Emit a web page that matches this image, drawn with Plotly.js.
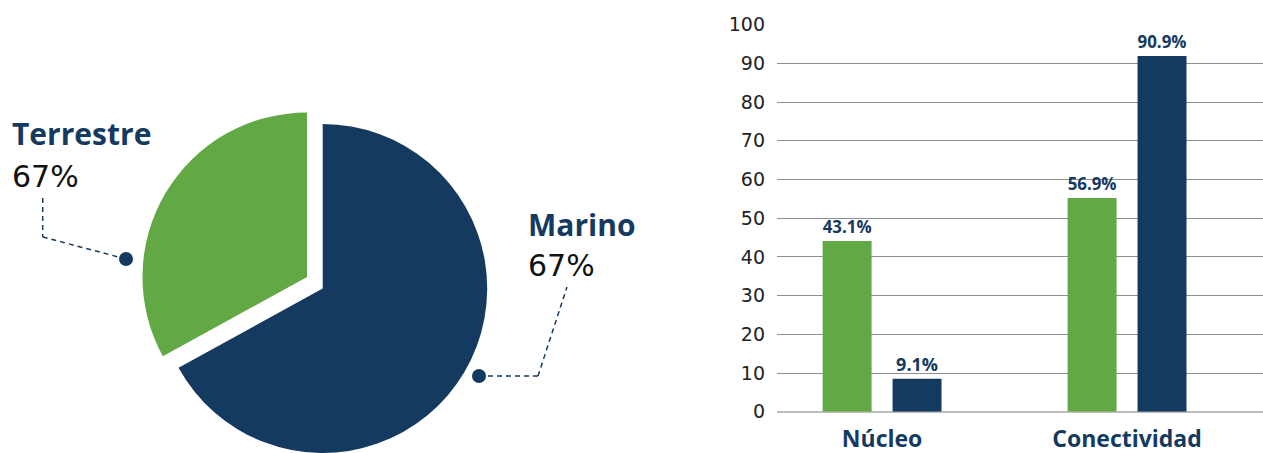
<!DOCTYPE html>
<html><head><meta charset="utf-8">
<script src="https://cdn.plot.ly/plotly-3.0.1.min.js"></script>
<style>html,body{margin:0;padding:0;background:#fff;overflow:hidden}#chart{width:1263px;height:453px}</style>
</head><body><div id="chart"></div>
<script>
// ---- data ----
const pieLabels = ['Terrestre', 'Marino'];
const pieValues = [33, 67];
const pieLabelText = ['67%', '67%'];
const categories = ['Núcleo', 'Conectividad'];
const terrestreValues = [44.1, 55.2];
const marinoValues = [8.5, 91.9];
const terrestreText = ['43.1%', '56.9%'];
const marinoText = ['9.1%', '90.9%'];
const yTickVals = [0, 10, 20, 30, 40, 50, 60, 70, 80, 90, 100];

// ---- styling ----
const NAVY = '#153a5f';
const GREEN = '#62a945';
const CLEAR = 'rgba(0,0,0,0)';
const BOLD = 'Open Sans, Noto Sans, sans-serif';
const REG = 'DejaVu Sans, sans-serif';
const W = 1263, H = 453;
const px = x => x / W;
const py = y => 1 - y / H;
const startRot = -360 * pieValues[0] / (pieValues[0] + pieValues[1]);

const pieCommon = {
  type: 'pie', labels: pieLabels, values: pieValues, sort: false,
  direction: 'clockwise', rotation: startRot, textinfo: 'none',
  hoverinfo: 'label+percent', showlegend: false
};
const pieNavy = Object.assign({}, pieCommon, {
  marker: {colors: [CLEAR, NAVY], line: {width: 0}},
  domain: {x: [px(158.2), px(487.2)], y: [0, py(124)]}
});
const pieGreen = Object.assign({}, pieCommon, {
  marker: {colors: [GREEN, CLEAR], line: {width: 0}},
  domain: {x: [px(142.5), px(471.5)], y: [py(441.5), py(112.5)]}
});

const barFont = {family: BOLD, size: 18, color: NAVY, weight: 700};
const barT = {
  type: 'bar', x: categories, y: terrestreValues, text: terrestreText,
  textposition: 'outside', textfont: barFont, cliponaxis: false,
  marker: {color: GREEN}, name: 'Terrestre', showlegend: false
};
const barM = {
  type: 'bar', x: categories, y: marinoValues, text: marinoText,
  textposition: 'outside', textfont: barFont, cliponaxis: false,
  marker: {color: NAVY}, name: 'Marino', showlegend: false
};

const dashLine = {color: NAVY, width: 1.5, dash: '5px,4px'};
function seg(x0, y0, x1, y1) {
  return {type: 'line', xref: 'paper', yref: 'paper', x0: px(x0), y0: py(y0), x1: px(x1), y1: py(y1), line: dashLine};
}
function dot(cx, cy, r) {
  return {type: 'circle', xref: 'paper', yref: 'paper', x0: px(cx - r), x1: px(cx + r), y0: py(cy + r), y1: py(cy - r),
    fillcolor: NAVY, line: {width: 0}};
}
function ann(text, x, y, bold, color) {
  return {xref: 'paper', yref: 'paper', x: px(x), y: py(y), xanchor: 'left', yanchor: 'middle', showarrow: false,
    text: text, font: {family: bold ? BOLD : REG, size: 30, color: color, weight: bold ? 700 : 400}};
}

const layout = {
  width: W, height: H, margin: {l: 0, r: 0, t: 0, b: 0},
  paper_bgcolor: '#fff', plot_bgcolor: '#fff',
  barmode: 'group', bargap: 0.429, bargroupgap: 0.3,
  xaxis: {
    domain: [px(777), 1], type: 'category', range: [-0.429, 1.555],
    showgrid: false, zeroline: false, showline: false, ticks: '',
    tickfont: {family: BOLD, size: 23, color: NAVY, weight: 700},
    ticklabelstandoff: 11, fixedrange: true
  },
  yaxis: {
    domain: [py(411.7), py(24.7)], range: [0, 100], tickvals: yTickVals,
    showgrid: true, gridcolor: '#8f8f8f', gridwidth: 1,
    zeroline: true, zerolinecolor: '#bdbdbd', zerolinewidth: 2,
    showline: false, ticks: '',
    tickfont: {family: REG, size: 19, color: '#222'},
    ticklabelstandoff: 11, fixedrange: true
  },
  shapes: [
    seg(42.7, 198, 42.7, 237), seg(42.7, 237, 126, 259), dot(126, 259, 7),
    seg(479, 376, 538, 376), seg(538, 376, 567, 287), dot(479, 376, 7)
  ],
  annotations: [
    ann(pieLabels[0], 10, 134, true, NAVY),
    ann(pieLabelText[0], 10, 176, false, '#111'),
    ann(pieLabels[1], 526, 224.5, true, NAVY),
    ann(pieLabelText[1], 526, 265.5, false, '#111')
  ]
};

Plotly.newPlot('chart', [pieNavy, pieGreen, barT, barM], layout, {displayModeBar: false, staticPlot: true});
</script>
</body></html>
